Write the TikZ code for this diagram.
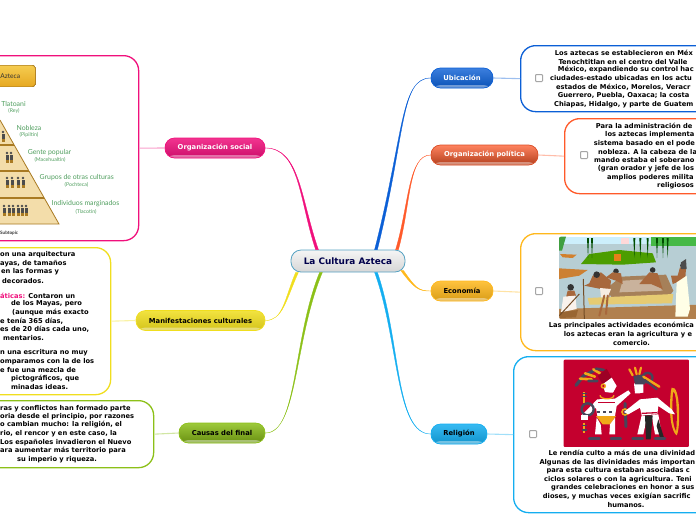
\documentclass[tikz,border=0pt]{standalone}
\usepackage{fontspec}
\usetikzlibrary{calc}
\setmainfont{DejaVu Sans}
\newfontfamily\pyrfont{Lato}
\definecolor{cubi}{HTML}{0B5FD6}
\definecolor{cpol}{HTML}{FF5A2A}
\definecolor{ceco}{HTML}{FFB81C}
\definecolor{crel}{HTML}{14AEF0}
\definecolor{csoc}{HTML}{F0107C}
\definecolor{cman}{HTML}{F0DE1E}
\definecolor{ccau}{HTML}{8CC018}
\definecolor{pyrgreen}{HTML}{4F9E5E}
\definecolor{pyrtan}{HTML}{F3DDAA}
\definecolor{pyrline}{HTML}{A97A22}
\definecolor{btntop}{HTML}{F5CC50}
\definecolor{btnbot}{HTML}{E6A822}
\definecolor{codexred}{HTML}{C4002E}
\definecolor{codexgold}{HTML}{F0A818}
\definecolor{codexdark}{HTML}{46465A}
\definecolor{skin}{HTML}{A8683C}
\tikzset{
  branchnode/.style n args={4}{rounded corners=9.5pt, draw=#1, line width=.7pt, top color=#2, bottom color=#3, text=#4,
    font=\bfseries\fontsize{6.8}{7}\selectfont, inner sep=0pt, minimum height=20pt,
    path picture={\fill[white,opacity=.4] ([yshift=3pt]path picture bounding box.south west) rectangle (path picture bounding box.south east);}},
  infobox/.style={draw=#1, rounded corners=15pt, line width=1.3pt, fill=white, anchor=north west, inner sep=0pt},
  paleline/.style={draw=#1!40, line width=1.1pt},
  bodyline/.style={anchor=west, inner sep=0pt, font=\bfseries\fontsize{6.7}{7}\selectfont},
  checkbox/.style={draw=black!35, fill=white, rounded corners=.8pt, line width=1pt, minimum size=7pt, inner sep=0pt},
  pyrlabel/.style={text=pyrgreen, inner sep=0pt, font=\pyrfont\fontsize{6.9}{7}\selectfont},
  pyrsmall/.style={text=pyrgreen, inner sep=0pt, font=\pyrfont\fontsize{5.2}{6}\selectfont}
}
\newcommand{\branchline}[5]{\filldraw[draw=#1, fill=#1, line width=.3pt] ([xshift=-1.4pt]#2) .. controls ([xshift=-.9pt]#3) and ([yshift=-.3pt]#4) .. (#5) .. controls ([yshift=.3pt]#4) and ([xshift=.9pt]#3) .. ([xshift=1.4pt]#2) -- cycle;}
\newcommand{\tinyman}[2]{\fill[black!70] (#1,#2) circle (1.3pt); \fill[black!70] (#1-1.5,#2+1.5) rectangle (#1+1.5,#2+7); \fill[pyrline] (#1-1.5,#2+7) rectangle (#1+1.5,#2+10);}
\begin{document}
\begin{tikzpicture}[x=1pt,y=-1pt]
  \useasboundingbox (0,0) rectangle (696,520);
  \clip (0,0) rectangle (696,520);
  % central topic and main topics
  \node[rounded corners=10pt, draw=crel!70!black!70, line width=.8pt, top color=white!96!black, bottom color=black!16, text=blue!30!black,
    font=\bfseries\fontsize{8.9}{9}\selectfont, minimum width=114pt, minimum height=22pt, inner sep=0pt] (center) at (348,261) {La Cultura Azteca};
  \node[branchnode={cubi}{cubi!80!white}{cubi!85!black}{white}, minimum width=62pt] (ubicacion) at (462,78) {Ubicación};
  \node[branchnode={cpol!85!black}{cpol!75!white}{cpol!70!black}{white}, minimum width=107pt] (politica) at (484.5,155) {Organización política};
  \node[branchnode={ceco}{ceco!85!white}{ceco!85!black}{black}, minimum width=62pt] (economia) at (462,291) {Economía};
  \node[branchnode={crel}{crel!85!white}{crel!85!black}{black}, minimum width=56pt] (religion) at (459,434) {Religión};
  \node[branchnode={csoc}{csoc!85!white}{csoc!85!black}{white}, minimum width=100pt] (social) at (215,148) {Organización social};
  \node[branchnode={cman}{cman!85!white}{cman!88!black}{black}, minimum width=129pt] (manifest) at (200.5,320.5) {Manifestaciones culturales};
  \node[branchnode={ccau}{ccau!85!white}{ccau!75!black}{black}, minimum width=86pt] (causas) at (222,433) {Causas del final};
  % info boxes, their right or left ends run past the page
  \node[infobox=cubi, minimum width=200pt, minimum height=66pt] (ubibox) at (520,45) {};
  \node[infobox=cpol, minimum width=160pt, minimum height=75pt] (polbox) at (564,118) {};
  \node[infobox=ceco, minimum width=200pt, minimum height=117pt] (ecobox) at (520,233) {};
  \node[infobox=crel, minimum width=210pt, minimum height=156pt] (relbox) at (513,356) {};
  \node[infobox=csoc, minimum width=170pt, minimum height=185pt] (socbox) at (-32,55) {};
  \node[infobox=cman, minimum width=142pt, minimum height=147pt] (manbox) at (-32,247) {};
  \node[infobox=ccau, minimum width=185pt, minimum height=67pt] (caubox) at (-32,400) {};
  \draw[paleline=cubi] (ubicacion.east) -- (ubibox.west);
  \draw[paleline=cpol] (politica.east) -- (polbox.west);
  \draw[paleline=ceco] (economia.east) -- (ecobox.west);
  \draw[paleline=crel] (religion.east) -- (relbox.west);
  \draw[paleline=csoc] (social.west) -- (socbox.east);
  \draw[paleline=cman] (manifest.west) -- (manbox.east);
  \draw[paleline=ccau] (causas.west) -- (caubox.east);
  \node[checkbox] (chkubi) at (539,78) {};
  \node[checkbox] (chkpol) at (584,155) {};
  \node[checkbox] (chkeco) at (539,291) {};
  \node[checkbox] (chkrel) at (533,434) {};
  % tapered branches
  \branchline{cubi}{$(center.north)+(28,0)$}{405,135}{400,78}{ubicacion.west}
  \branchline{cpol}{$(center.north)+(49,0)$}{410,205}{408,155}{politica.west}
  \branchline{ceco}{$(center.south)+(54,-2)$}{415,288}{418,291}{economia.west}
  \branchline{crel}{$(center.south)+(28,0)$}{400,340}{395,434}{religion.west}
  \branchline{csoc}{$(center.north)+(-31,0)$}{300,200}{300,148}{social.east}
  \branchline{cman}{$(center.south)+(-51,0)$}{285,300}{283,320.5}{manifest.east}
  \branchline{ccau}{$(center.south)+(-27,0)$}{293,340}{298,433}{causas.east}
  % texts of the boxes
  \foreach \x/\y/\txt [count=\i] in {554.7/53.3/Los aztecas se establecieron en Méx, 558.3/61.7/Tenochtitlan en el centro del Valle, 557.7/70/{México, expandiendo su control hac}, 550/78.3/ciudades-estado ubicadas en los actu, 556/87.3/{estados de México, Morelos, Veracr}, 557.7/95.7/{Guerrero, Puebla, Oaxaca; la costa}, 554/104.3/{Chiapas, Hidalgo, y parte de Guatem}}
    \node[bodyline] (ubi\i) at (\x,\y) {\txt};
  \foreach \x/\y/\txt [count=\i] in {595.7/126.3/Para la administración de, 605/134.7/los aztecas implementa, 593.7/143.3/sistema basado en el pode, 598/151.7/nobleza. A la cabeza de la, 594/160.3/mando estaba el soberano, 597.7/169/(gran orador y jefe de los, 607/177.7/amplios poderes milita, 657/186/religiosos}
    \node[bodyline] (pol\i) at (\x,\y) {\txt};
  \foreach \x/\y/\txt [count=\i] in {548.7/325.7/Las principales actividades económica, 563.7/334.3/los aztecas eran la agricultura y e, 613/342.7/comercio.}
    \node[bodyline] (eco\i) at (\x,\y) {\txt};
  \foreach \x/\y/\txt [count=\i] in {548.3/453.3/Le rendía culto a más de una divinidad, 539.3/462.7/Algunas de las divinidades más importan, 546.3/470.7/para esta cultura estaban asociadas c, 544/479.3/ciclos solares o con la agricultura. Teni, 551/487.3/grandes celebraciones en honor a sus, 542.7/496.7/{dioses, y muchas veces exigían sacrific}, 607.3/504.7/humanos.}
    \node[bodyline] (rel\i) at (\x,\y) {\txt};
  \foreach \x/\y/\txt [count=\i] in {0/254.3/on una arquitectura, 0/263.3/{ayas, de tamaños}, 1/272/en las formas y, 2/280.7/decorados., 0/295.7/\textcolor{csoc}{áticas:} Contaron un, 11/303.7/{de los Mayas, pero}, 12/312.3/(aunque más exacto, 0/321/{e tenía 365 días,}, 0/329.7/{es de 20 días cada uno,}, 3/337.7/mentarios., 0/352.7/n una escritura no muy, 0/361.7/omparamos con la de los, 0/369.7/e fue una mezcla de, 11/378.3/{pictográficos, que}, 11/386.7/minadas ideas.}
    \node[bodyline] (man\i) at (\x,\y) {\txt};
  \foreach \x/\y/\txt [count=\i] in {0/408.3/ras y conflictos han formado parte, 0/416.7/{oria desde el principio, por razones}, 0/425/{o cambian mucho: la religión, el}, 0/433.3/{rio, el rencor y en este caso, la}, 0/442.3/Los españoles invadieron el Nuevo, 0/450.7/ara aumentar más territorio para, 17/459.3/su imperio y riqueza.}
    \node[bodyline] (cau\i) at (\x,\y) {\txt};
  % pyramid
  \fill[pyrtan] (0,120) -- (59,224) -- (0,224) -- cycle;
  \draw[pyrline, line width=.8pt] (0,120) -- (59,224) -- (0,224);
  \foreach \yb/\xb in {145/14,171/29,198/44} \draw[pyrline, line width=1.4pt] (0,\yb) -- (\xb,\yb);
  \foreach \xm/\ym in {3/132,7/153,11/153,7/178,12/178,18/178,23/178,4/206,9/206,13/206,18/206,22/206,26/206} \tinyman{\xm}{\ym}
  \node[rounded corners=3pt, draw=pyrline, top color=btntop, bottom color=btnbot, inner sep=0pt, minimum width=50pt, minimum height=21pt, text=black!80, font=\pyrfont\fontsize{6.6}{7}\selectfont, anchor=east] (azteca) at (35.5,76) {Azteca};
  \node[pyrlabel] (tlatoani) at (13.5,103.7) {Tlatoani};
  \node[pyrsmall] (rey) at (14,111) {(Rey)};
  \node[pyrlabel] (nobleza) at (29,128) {Nobleza};
  \node[pyrsmall] (pipiltin) at (29,135) {(Pipiltin)};
  \node[pyrlabel] (gente) at (49.5,152.7) {Gente popular};
  \node[pyrsmall] (mace) at (50,160) {(Macehualtin)};
  \node[pyrlabel] (grupos) at (76.7,178) {Grupos de otras culturas};
  \node[pyrsmall] (poch) at (76.5,185) {(Pochteca)};
  \node[pyrlabel] (indiv) at (85.5,204) {Individuos marginados};
  \node[pyrsmall] (tlac) at (86,212) {(Tlacotin)};
  \node[anchor=west, inner sep=0pt, font=\pyrfont\bfseries\fontsize{4.6}{5}\selectfont, text=black!80] (subtopic) at (0,233.5) {Subtopic};
  % farm painting
  \begin{scope}[shift={(556,234)}, x=.3333pt, y=-.3333pt]
    \clip[rounded corners=2pt] (9,8) rectangle (430,255);
    \fill[blue!20!cyan!25!gray!45] (9,8) rectangle (430,255);
    \fill[white!80!cyan] (9,8) rectangle (430,30);
    \fill[green!45!black!70!yellow] (75,90) -- (100,60) -- (190,48) -- (290,58) -- (300,85) -- (200,92) -- cycle;
    \fill[green!50!black!75] (9,8) -- (30,8) -- (18,50) -- (9,50) -- cycle;
    \fill[green!45!gray] (285,8) rectangle (430,35);
    \foreach \xt in {93,105,232,250,272,300,318,332} \fill[green!30!black] (\xt,12) -- (\xt+6,12) -- (\xt+3,72) -- cycle;
    \fill[red!15!white] (195,12) rectangle (220,30);
    \fill[orange!60!brown] (175,60) rectangle (195,80);
    \fill[brown!70!orange] (12,60) -- (62,62) -- (50,72) -- (20,70) -- cycle;
    \fill[brown!80!orange] (9,103) -- (95,108) -- (70,125) -- (9,135) -- cycle;
    \fill[brown!75!black!80] (150,165) -- (195,128) -- (330,122) -- (352,170) -- (335,195) -- (170,195) -- cycle;
    \fill[gray!40!brown!60] (200,140) -- (290,135) -- (320,170) -- (190,175) -- cycle;
    \fill[yellow!40!brown!70] (95,192) -- (352,180) -- (348,208) -- (100,212) -- cycle;
    \fill[orange!30!brown!60!gray] (9,225) -- (430,212) -- (430,255) -- (9,255) -- cycle;
    \fill[skin] (110,125) -- (135,115) -- (165,140) -- (160,190) -- (135,165) -- (85,155) -- (100,148) -- cycle;
    \fill[white!85!brown] (132,162) -- (165,165) -- (155,190) -- (135,190) -- cycle;
    \draw[skin, line width=2pt, line cap=round] (145,185) -- (130,245) (155,185) -- (150,240);
    \fill[black!80] (122,122) circle (3.3pt) (44,160) circle (3.3pt) (290,108) circle (2.8pt) (180,112) circle (2.8pt) (380,95) circle (2.5pt);
    \draw[brown!60!black, line width=1pt] (82,135) -- (85,255);
    \fill[skin] (170,115) -- (195,118) -- (200,150) -- (180,140) -- (150,130) -- cycle;
    \fill[skin] (280,115) -- (305,118) -- (320,165) -- (285,150) -- (250,150) -- cycle;
    \fill[skin] (35,170) -- (55,170) -- (60,185) -- (30,190) -- cycle;
    \fill[white!90!brown] (22,188) -- (58,185) -- (62,225) -- (15,235) -- cycle;
    \fill[brown!80!black] (12,235) -- (66,228) -- (60,250) -- (12,252) -- cycle;
    \draw[brown!60!black, line width=1pt] (70,180) -- (10,245);
    \fill[skin] (372,100) -- (390,102) -- (388,135) -- (350,150) -- (345,125) -- (365,125) -- cycle;
    \fill[white!90!yellow] (362,145) -- (392,125) -- (402,225) -- (395,248) -- (358,248) -- cycle;
    \fill[black!70] (375,85) -- (390,75) -- (392,105) -- (375,105) -- cycle;
  \end{scope}
  % codex painting
  \begin{scope}[shift={(560,356)}, x=.3333pt, y=-.3333pt]
    \fill[codexred, rounded corners=1pt] (11,11) rectangle (387,273);
    % right bow
    \fill[codexgold] (335,95) .. controls (362,85) and (362,220) .. (350,238) .. controls (340,232) and (330,200) .. (330,160) .. controls (330,130) and (332,105) .. (335,95);
    \fill[codexred] (340,108) .. controls (352,110) and (352,210) .. (348,225) .. controls (342,215) and (337,190) .. (337,160) .. controls (337,135) and (338,120) .. (340,108);
    % left figure
    \draw[codexdark, line width=3.2pt, line cap=round] (48,88) -- (70,60) -- (105,42);
    \draw[codexgold, line width=2.6pt, line cap=round] (60,68) -- (95,70) (75,52) -- (105,62) (100,40) -- (120,52);
    \draw[codexdark, line width=2.6pt, line cap=round] (85,75) -- (112,75) (108,38) -- (132,42);
    \fill[codexred!80!black] (113,60) -- (140,38) -- (155,65) -- (128,85) -- cycle;
    \fill[white] (128,85) -- (155,65) -- (170,90) -- (158,112) -- (135,108) -- cycle;
    \fill[codexgold] (130,90) circle (2.7pt); \fill[codexred] (130,90) circle (1.3pt);
    \fill[codexred] (118,110) -- (163,110) -- (155,130) -- (130,132) -- cycle;
    \fill[white] (112,130) -- (165,128) -- (205,103) -- (212,112) -- (170,150) -- (165,180) -- (112,180) -- (108,155) -- (80,185) -- (65,178) -- cycle;
    \draw[codexgold, line width=1.3pt] (120,118) arc (180:360:7pt and 3.5pt);
    \draw[codexred, line width=1.5pt] (115,140) -- (165,140);
    \draw[codexdark, line width=1.3pt, dashed] (112,168) -- (165,168);
    \fill[codexgold] (108,180) -- (168,180) -- (150,205) -- (128,205) -- cycle;
    \fill[white] (110,185) -- (122,205) -- (125,235) -- (105,235) -- cycle;
    \fill[white] (165,185) -- (150,205) -- (148,235) -- (165,235) -- cycle;
    \draw[codexdark, line width=2.8pt, line cap=round] (88,248) -- (118,248) (153,248) -- (182,248);
    \draw[codexgold, line width=2pt] (72,108) -- (72,140) (72,200) -- (72,232);
    \draw[codexdark, line width=1.2pt] (65,112) -- (80,112) (65,122) -- (80,122) (65,208) -- (80,208) (65,222) -- (80,222);
    \draw[codexdark, line width=2.4pt] (83,160) circle (6pt);
    \fill[white] (62,178) rectangle (85,192);
    % middle object
    \draw[codexdark, line width=3pt, line cap=round] (195,142) -- (198,212);
    \draw[codexgold, line width=1.6pt] (195,168) circle (3pt);
    % right figure
    \fill[white] (222,82) -- (250,80) -- (250,112) -- (225,112) -- cycle;
    \draw[codexgold, line width=2.2pt, line cap=round] (208,40) -- (218,58) (225,35) -- (230,55) (243,35) -- (238,55);
    \fill[codexdark] (220,60) -- (250,55) -- (255,85) -- (225,85) -- cycle;
    \fill[codexdark] (263,65) circle (6pt); \fill[codexred] (263,65) circle (3.6pt);
    \draw[codexgold, line width=2.4pt, line cap=round] (250,62) -- (298,92);
    \draw[codexdark, line width=2pt, line cap=round] (255,72) -- (290,100);
    \fill[codexred] (240,112) -- (285,105) -- (290,128) -- (245,130) -- cycle;
    \fill[white] (240,130) -- (292,125) -- (335,160) -- (345,175) -- (328,172) -- (295,150) -- (292,175) -- (245,178) -- (240,155) -- (205,175) -- (192,168) -- cycle;
    \draw[codexred, line width=1.3pt] (245,172) -- (292,170);
    \fill[white] (245,178) -- (262,180) -- (250,235) -- (232,235) -- cycle;
    \fill[white] (275,178) -- (295,175) -- (305,235) -- (285,235) -- cycle;
    \fill[black!85] (255,178) -- (278,178) -- (272,250) -- (258,250) -- cycle;
    \fill[black!85] (295,190) -- (312,245) -- (300,245) -- (290,210) -- cycle;
    \draw[codexdark, line width=2.8pt, line cap=round] (218,248) -- (248,248) (285,248) -- (315,248);
  \end{scope}
\end{tikzpicture}
\end{document}
